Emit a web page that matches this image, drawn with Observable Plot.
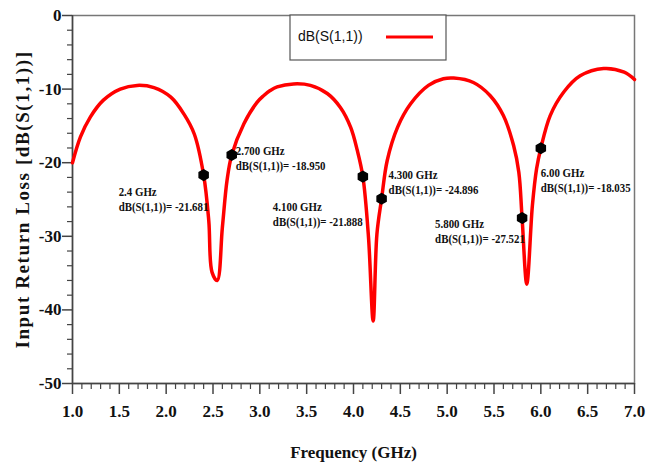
<!DOCTYPE html>
<html><head><meta charset="utf-8">
<script src="https://cdn.jsdelivr.net/npm/d3@7"></script>
<script src="https://cdn.jsdelivr.net/npm/@observablehq/plot@0.6"></script>
<style>body{margin:0;background:#fff;} #chart svg{display:block;}</style>
</head><body><div id="chart"></div>
<script>
// ---- data ----
const freq = [1.00,1.085,1.19,1.33,1.51,1.69,1.87,2.05,2.19,2.30,2.40,2.455,2.49,2.545,2.60,2.65,2.70,2.83,2.97,3.04,3.11,3.185,3.36,3.54,3.72,3.86,3.97,4.04,4.10,4.16,4.21,4.25,4.30,4.36,4.47,4.61,4.80,4.96,5.07,5.28,5.46,5.60,5.71,5.765,5.80,5.85,5.91,5.955,6.00,6.10,6.245,6.42,6.67,6.89,7.00];
const s11  = [-20.0,-16.5,-13.8,-11.5,-10.0,-9.5,-9.8,-11.1,-13.4,-16.1,-21.681,-27.9,-34.9,-36.0,-28.8,-22.4,-18.95,-14.7,-11.8,-10.9,-10.2,-9.7,-9.3,-9.5,-10.6,-12.5,-15.2,-18.3,-21.888,-30.1,-41.5,-29.7,-24.896,-19.7,-15.2,-12.0,-9.5,-8.6,-8.5,-9.1,-10.9,-13.6,-17.7,-21.3,-27.521,-36.5,-25.8,-20.8,-18.035,-13.6,-10.4,-8.2,-7.2,-7.7,-8.7];
const markerFreq = [2.4, 2.7, 4.1, 4.3, 5.8, 6.0];
const markerDb = [-21.681, -18.950, -21.888, -24.896, -27.521, -18.035];
const markerNames = ["2.4 GHz", "2.700 GHz", "4.100 GHz", "4.300 GHz", "5.800 GHz", "6.00 GHz"];
const xTicks = [1.0,1.5,2.0,2.5,3.0,3.5,4.0,4.5,5.0,5.5,6.0,6.5,7.0];
const xTickLabels = ["1.0","1.5","2.0","2.5","3.0","3.5","4.0","4.5","5.0","5.5","6.0","6.5","7.0"];
const yTicks = [0,-10,-20,-30,-40,-50];
const yTickLabels = ["0","-10","-20","-30","-40","-50"];
const xMinor = d3.range(10, 71).map(i => i / 10).filter(v => !xTicks.some(t => Math.abs(t - v) < 1e-9));
const yMinor = d3.range(0, -51, -2).filter(v => v % 10 !== 0);
const seriesName = "dB(S(1,1))";
const xTitle = "Frequency (GHz)";
const yTitle = "Input Return Loss [dB(S(1,1))]";

// ---- layout ----
const W = 658, H = 465, mL = 72, mR = 24, mT = 15, mB = 82;
const dbPerPx = 50 / (H - mT - mB);
const ghzPerPx = 6 / (W - mL - mR);
const axisColor = "#444";
const serif = "Liberation Serif, Times New Roman, serif";

const curve = freq.map((f, i) => ({f, v: s11[i]}));
const markers = markerFreq.map((f, i) => ({f, v: markerDb[i], name: markerNames[i]}));
// label offsets (px) relative to each marker
const labelOffsets = [[-85, 10], [4, -11], [-90, 24], [7, -30], [-87, -1], [0, 18]];

const marks = [
  Plot.frame({stroke: "#777", strokeWidth: 1.5}),
  Plot.ruleX([1], {stroke: axisColor, strokeWidth: 1.5}),
  Plot.ruleY([-50], {stroke: axisColor, strokeWidth: 1.5}),
  Plot.ruleX(xMinor, {x: d => d, y1: -50, y2: -50 - 6 * dbPerPx, stroke: axisColor, strokeWidth: 1.2}),
  Plot.ruleX(xTicks, {x: d => d, y1: -50, y2: -50 - 11 * dbPerPx, stroke: axisColor, strokeWidth: 1.5}),
  Plot.ruleY(yMinor, {y: d => d, x1: 1, x2: 1 - 5 * ghzPerPx, stroke: axisColor, strokeWidth: 1.2}),
  Plot.ruleY(yTicks, {y: d => d, x1: 1, x2: 1 - 10 * ghzPerPx, stroke: axisColor, strokeWidth: 1.5}),
  Plot.text(xTicks, {x: d => d, y: -50, text: (d, i) => xTickLabels[i], dy: 28, fontSize: 17, fontFamily: serif, fontWeight: "bold", fill: "#111", lineAnchor: "middle"}),
  Plot.text(yTicks, {x: 1, y: d => d, text: (d, i) => yTickLabels[i], dx: -11, textAnchor: "end", fontSize: 17, fontFamily: serif, fontWeight: "bold", fill: "#111", lineAnchor: "middle"}),
  Plot.text([xTitle], {frameAnchor: "bottom", dy: 69, textAnchor: "middle", fontSize: 17, fontFamily: serif, fontWeight: "bold", fill: "#111", lineAnchor: "middle"}),
  Plot.text([yTitle], {frameAnchor: "left", dx: -50, rotate: -90, textAnchor: "middle", fontSize: 19, fontFamily: serif, fontWeight: "bold", fill: "#111", lineAnchor: "middle"}),
  Plot.line(curve, {x: "f", y: "v", stroke: "#ff0000", strokeWidth: 3.5, curve: "catmull-rom"}),
  Plot.dot(markers, {x: "f", y: "v", symbol: "hexagon", r: 4.5, fill: "black", stroke: "black"}),
  ...markers.map((m, i) => Plot.text([m], {
    x: "f", y: "v",
    text: d => `${d.name}\ndB(S(1,1))= ${d.v.toFixed(3)}`,
    dx: labelOffsets[i][0], dy: labelOffsets[i][1],
    textAnchor: "start", lineAnchor: "top", lineHeight: 1.2,
    fontSize: 12.5, fontFamily: serif, fontWeight: "bold", fill: "#111"
  }))
];

const chart = Plot.plot({
  width: W, height: H,
  marginLeft: mL, marginRight: mR, marginTop: mT, marginBottom: mB,
  x: {domain: [1, 7], axis: null},
  y: {domain: [-50, 0], axis: null},
  style: {background: "white", overflow: "visible"},
  marks
});
document.getElementById("chart").appendChild(chart);

const svg = d3.select(chart);
// slightly condense the annotation text, like the narrow serif of the reference
svg.selectAll("text").filter(function () {
  const s = this.textContent;
  return s.includes("GHz") && s.includes("=");
}).each(function () {
  const t = d3.select(this);
  let tr = t.attr("transform");
  if (!tr) {
    const x = +t.attr("x") || 0, y = +t.attr("y") || 0;
    t.attr("x", null).attr("y", null);
    tr = `translate(${x},${y})`;
  }
  t.attr("transform", tr + " scale(0.87,1)");
});
// letter-spaced axis title, as in the reference
svg.selectAll("text").filter(function () { return this.textContent === yTitle; })
  .style("letter-spacing", "1.6px");

// legend box inside the plot, as in the reference
const lg = svg.append("g").attr("class", "legend");
lg.append("rect").attr("x", 290).attr("y", mT).attr("width", 156).attr("height", 45)
  .attr("fill", "white").attr("stroke", "#555").attr("stroke-width", 1.2);
lg.append("text").attr("x", 298).attr("y", mT + 22).attr("dominant-baseline", "middle")
  .attr("text-anchor", "start")
  .attr("font-family", "Liberation Sans, Arial, sans-serif").attr("font-size", 14).attr("fill", "#111")
  .text(seriesName);
lg.append("line").attr("x1", 386).attr("x2", 433).attr("y1", mT + 22).attr("y2", mT + 22)
  .attr("stroke", "#ff0000").attr("stroke-width", 3);
</script>
</body></html>
